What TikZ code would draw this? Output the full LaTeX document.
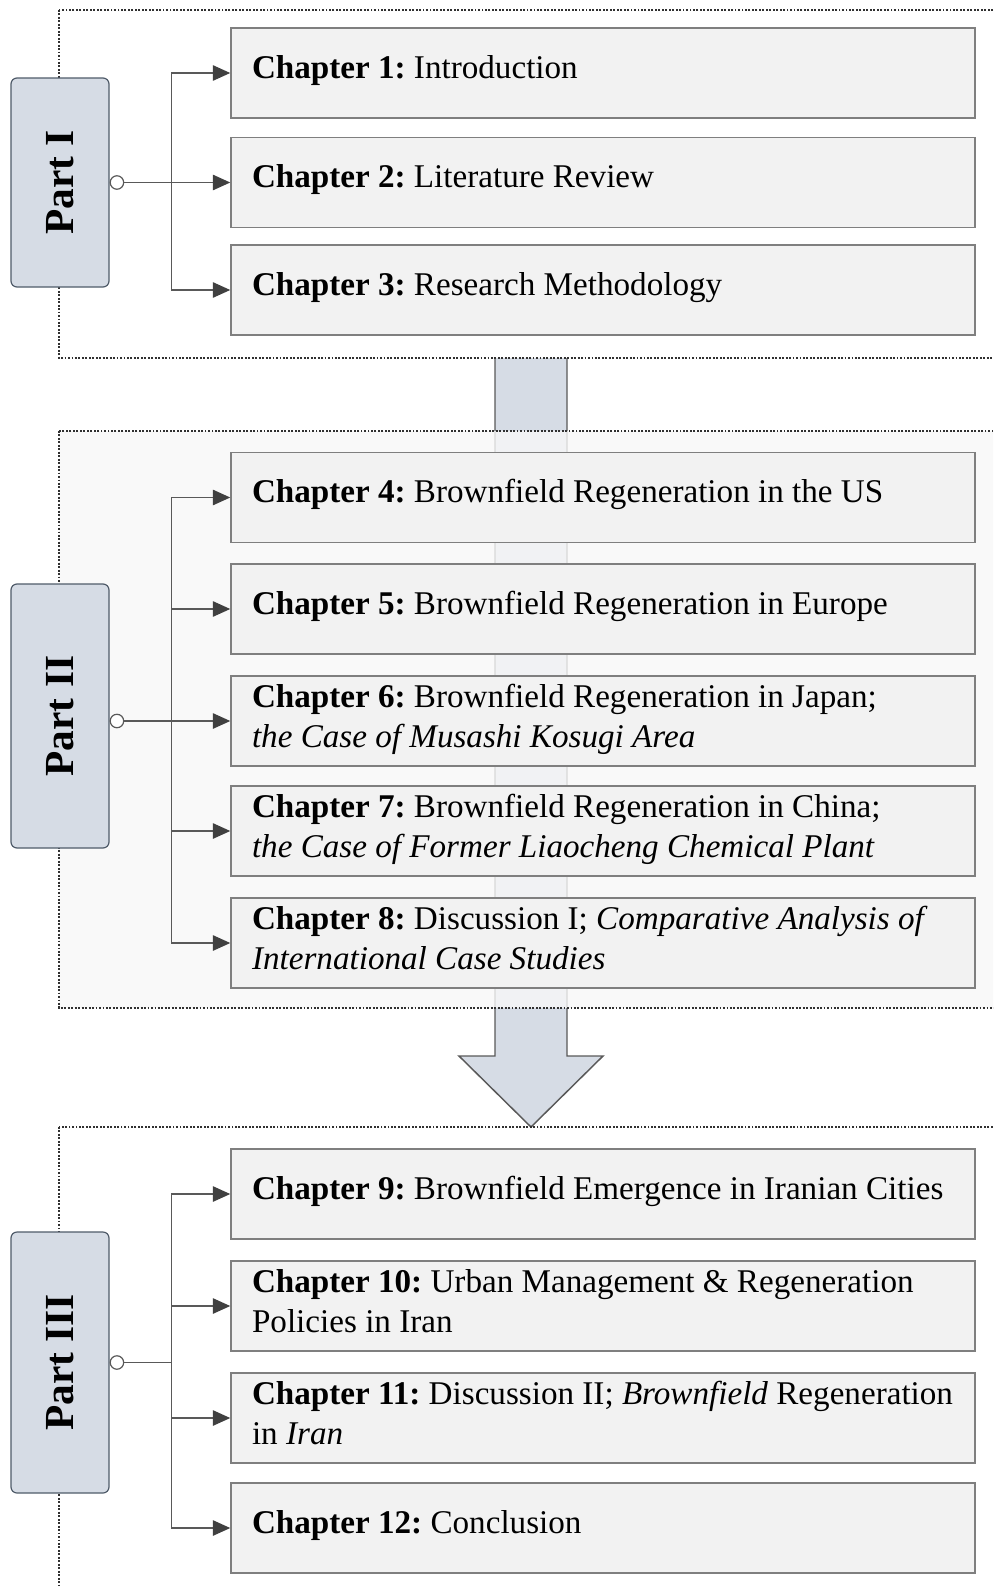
\documentclass[tikz,border=0pt]{standalone}
\usepackage{fontspec}
\setmainfont{Liberation Serif}
\usetikzlibrary{arrows.meta,calc}
\frenchspacing

\definecolor{chapfill}{HTML}{F2F2F2}
\definecolor{chapline}{HTML}{7F7F7F}
\definecolor{partfill}{HTML}{D6DCE5}
\definecolor{partline}{HTML}{4F5B69}
\definecolor{connline}{HTML}{595959}
\definecolor{tipcol}{HTML}{404040}
\definecolor{dotline}{HTML}{303030}
\definecolor{regionfill}{HTML}{F8F8F8}

% two-line chapter titles: the first baseline is the reference point
\newcommand{\chaptxt}[1]{\parbox[t]{545pt}{\raggedright #1}}

\tikzset{
  chapbox/.style={draw=chapline, fill=chapfill, line width=1.1pt,
    minimum width=558pt, minimum height=67.5pt, inner sep=0pt},
  chaptext/.style={anchor=base west, inner sep=0pt,
    font=\fontsize{24.85pt}{30.4pt}\selectfont},
  partbox/.style={draw=partline, fill=partfill, line width=0.9pt,
    rounded corners=4.5pt, minimum width=73.5pt, inner sep=0pt,
    font=\fontsize{31pt}{36pt}\selectfont\bfseries},
  region/.style={draw=dotline, line width=1.9pt, dash pattern=on 1.4pt off 1.2pt},
  conn/.style={draw=connline, line width=1.1pt},
  feed/.style={conn, {Circle[open, fill=white, length=11pt, line width=0.9pt]}-},
  branch/.style={conn, -{Triangle[length=13pt, width=11.5pt, fill=tipcol, color=tipcol]}},
  bigarrow/.style={draw=connline, line width=1.1pt, line join=miter},
}

\begin{document}
\begin{tikzpicture}[x=0.75pt, y=-0.75pt]
  \useasboundingbox (0,0) rectangle (993,1588);
  \clip (0,0) rectangle (993,1588);

  % flow arrow from Part I down to Part III
  \fill[partfill] (495,358) -- (495,1056) -- (459,1056) -- (531,1127)
    -- (603,1056) -- (567,1056) -- (567,358) -- cycle;
  \draw[bigarrow] (495,358) -- (495,1056) -- (459,1056) -- (531,1127)
    -- (603,1056) -- (567,1056) -- (567,358);

  % dotted frames of the three parts
  \fill[regionfill, fill opacity=0.8] (59,431) rectangle (1010,1008);
  \draw[region] (59,431) rectangle (1010,1008);
  \draw[region] (59,10) rectangle (1010,358);
  \draw[region] (59,1127) rectangle (1010,1610);

  % part labels
  \node[partbox, minimum height=156.75pt] (p1) at (60,182.5) {\rotatebox{90}{Part I}};
  \node[partbox, minimum height=198pt] (p2) at (60,716) {\rotatebox{90}{Part II}};
  \node[partbox, minimum height=195.75pt] (p3) at (60,1362.5) {\rotatebox{90}{Part III}};

  % chapter boxes
  \node[chapbox] (ch1) at (603,73) {};
  \node[chapbox] (ch2) at (603,182.5) {};
  \node[chapbox] (ch3) at (603,290) {};
  \node[chapbox] (ch4) at (603,497.5) {};
  \node[chapbox] (ch5) at (603,609) {};
  \node[chapbox] (ch6) at (603,721) {};
  \node[chapbox] (ch7) at (603,831) {};
  \node[chapbox] (ch8) at (603,943) {};
  \node[chapbox] (ch9) at (603,1194) {};
  \node[chapbox] (ch10) at (603,1306) {};
  \node[chapbox] (ch11) at (603,1418) {};
  \node[chapbox] (ch12) at (603,1528) {};

  % chapter titles
  \node[chaptext] (t1) at ($(ch1.north west)+(21.5,51)$) {\textbf{Chapter 1:} Introduction};
  \node[chaptext] (t2) at ($(ch2.north west)+(21.5,51)$) {\textbf{Chapter 2:} Literature Review};
  \node[chaptext] (t3) at ($(ch3.north west)+(21.5,51)$) {\textbf{Chapter 3:} Research Methodology};
  \node[chaptext] (t4) at ($(ch4.north west)+(21.5,51)$) {\textbf{Chapter 4:} Brownfield Regeneration in the US};
  \node[chaptext] (t5) at ($(ch5.north west)+(21.5,51)$) {\textbf{Chapter 5:} Brownfield Regeneration in Europe};
  \node[chaptext] (t6) at ($(ch6.north west)+(21.5,32)$) {\chaptxt{\textbf{Chapter 6:} Brownfield Regeneration in Japan;\\ \textit{the Case of Musashi Kosugi Area}}};
  \node[chaptext] (t7) at ($(ch7.north west)+(21.5,32)$) {\chaptxt{\textbf{Chapter 7:} Brownfield Regeneration in China;\\ \textit{the Case of Former Liaocheng Chemical Plant}}};
  \node[chaptext] (t8) at ($(ch8.north west)+(21.5,32)$) {\chaptxt{\textbf{Chapter 8:} Discussion I; \textit{Comparative Analysis of}\\ \textit{International Case Studies}}};
  \node[chaptext] (t9) at ($(ch9.north west)+(21.5,51)$) {\textbf{Chapter 9:} Brownfield Emergence in Iranian Cities};
  \node[chaptext] (t10) at ($(ch10.north west)+(21.5,32)$) {\chaptxt{\textbf{Chapter 10:} Urban Management \& Regeneration\\ Policies in Iran}};
  \node[chaptext] (t11) at ($(ch11.north west)+(21.5,32)$) {\chaptxt{\textbf{Chapter 11:} Discussion II; \textit{Brownfield} Regeneration\\ in \textit{Iran}}};
  \node[chaptext] (t12) at ($(ch12.north west)+(21.5,51)$) {\textbf{Chapter 12:} Conclusion};

  % junction points on the trunk lines
  \path (p1.east) ++(62,0) coordinate (j1);
  \path (p2.east |- ch6.west) coordinate (s2) ++(62,0) coordinate (j2);
  \path (p3.east) ++(62,0) coordinate (j3);

  % Part I connectors
  \draw[branch] (j1) |- (ch1.west);
  \draw[branch] (j1) |- (ch2.west);
  \draw[branch] (j1) |- (ch3.west);
  \draw[feed] (p1.east) -- (j1);

  % Part II connectors
  \draw[branch] (j2) |- (ch4.west);
  \draw[branch] (j2) |- (ch5.west);
  \draw[branch] (j2) |- (ch6.west);
  \draw[branch] (j2) |- (ch7.west);
  \draw[branch] (j2) |- (ch8.west);
  \draw[feed] (s2) -- (j2);

  % Part III connectors
  \draw[branch] (j3) |- (ch9.west);
  \draw[branch] (j3) |- (ch10.west);
  \draw[branch] (j3) |- (ch11.west);
  \draw[branch] (j3) |- (ch12.west);
  \draw[feed] (p3.east) -- (j3);
\end{tikzpicture}
\end{document}
